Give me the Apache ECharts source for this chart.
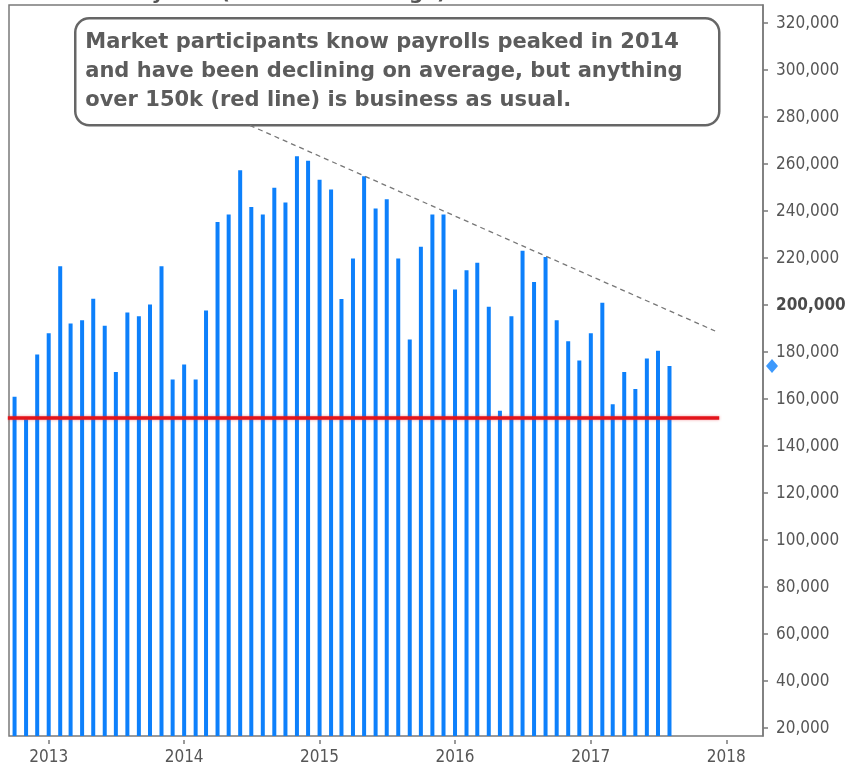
<!DOCTYPE html>
<html>
<head>
<meta charset="utf-8">
<script src="https://cdn.jsdelivr.net/npm/echarts@6/dist/echarts.min.js"></script>
<style>
html,body{margin:0;padding:0;background:#fff;}
#chart{width:858px;height:767px;}
</style>
</head>
<body>
<div id="chart"></div>
<script>
// ---- data ----
const months = [
  '2012-10','2012-11','2012-12',
  '2013-01','2013-02','2013-03','2013-04','2013-05','2013-06','2013-07','2013-08','2013-09','2013-10','2013-11','2013-12',
  '2014-01','2014-02','2014-03','2014-04','2014-05','2014-06','2014-07','2014-08','2014-09','2014-10','2014-11','2014-12',
  '2015-01','2015-02','2015-03','2015-04','2015-05','2015-06','2015-07','2015-08','2015-09','2015-10','2015-11','2015-12',
  '2016-01','2016-02','2016-03','2016-04','2016-05','2016-06','2016-07','2016-08','2016-09','2016-10','2016-11','2016-12',
  '2017-01','2017-02','2017-03','2017-04','2017-05','2017-06','2017-07','2017-08'
];
const payrolls = [
  161000, 151500, 179000,
  188000, 216600, 192200, 193600, 202700, 191200, 171600, 196900, 195300, 200300, 216600, 168400,
  174800, 168400, 197700, 235400, 238600, 257400, 241800, 238600, 250000, 243700, 263300, 261400,
  253400, 249200, 202600, 219800, 254800, 241100, 245100, 219800, 185400, 224800, 238600, 238600,
  206700, 214900, 218000, 199300, 155100, 195300, 223100, 209900, 220500, 193600, 184600, 176500,
  188000, 201000, 157800, 171600, 164300, 177300, 180600, 174100
];
const yTicks = [20000,40000,60000,80000,100000,120000,140000,160000,180000,200000,220000,240000,260000,280000,300000,320000];
const yearTicks = ['2013-01-01','2014-01-01','2015-01-01','2016-01-01','2017-01-01','2018-01-01'];
const thresholdDates = ['2012-09-13','2017-12-13'];
const thresholdValue = 152000;
const trendDates = ['2014-06-27','2017-12-02'];
const trendValues = [276500, 189000];
const titleText = 'Nonfarm Payrolls (12-month average)';
const noteLines = [
  'Market participants know payrolls peaked in 2014',
  'and have been declining on average, but anything',
  'over 150k (red line) is business as usual.'
];

const X_MIN = '2012-09-16';
const X_MAX = '2018-04-10';
const Y_MIN = 16700;
const Y_MAX = 327700;

const ts = d => Date.parse(d.length === 7 ? d + '-01T00:00:00Z' : d + 'T00:00:00Z');

const blue = '#0d80fb';
const axisGray = '#7a7a7a';
const labelColor = '#565656';
const labelFont = '"DejaVu Sans Condensed", "Liberation Sans Narrow", "DejaVu Sans", sans-serif';
const noteFont = '"DejaVu Sans", sans-serif';

const fmt = v => String(v).replace(/\B(?=(\d{3})+(?!\d))/g, ',');

const chart = echarts.init(document.getElementById('chart'), null, {renderer: 'canvas'});
const option = {
  animation: false,
  backgroundColor: '#fff',
  grid: {left: 9, right: 95, top: 5, bottom: 31, show: true, borderColor: axisGray, borderWidth: 1.5, backgroundColor: 'transparent'},
  xAxis: {
    type: 'value',
    min: ts(X_MIN),
    max: ts(X_MAX),
    offset: 4,
    axisLine: {show: false},
    splitLine: {show: false},
    axisTick: {show: true, length: 4, lineStyle: {color: axisGray, width: 1.5}, customValues: yearTicks.map(ts)},
    axisLabel: {
      customValues: yearTicks.map(ts),
      formatter: v => String(new Date(v).getUTCFullYear()),
      color: labelColor, fontSize: 17, fontFamily: labelFont, margin: 9
    }
  },
  yAxis: {
    type: 'value',
    position: 'right',
    min: Y_MIN,
    max: Y_MAX,
    splitLine: {show: false},
    axisLine: {show: true, lineStyle: {color: axisGray, width: 1.5}},
    axisTick: {show: true, length: 5, lineStyle: {color: axisGray, width: 1.5}, customValues: yTicks},
    axisLabel: {
      customValues: yTicks,
      margin: 13,
      formatter: v => v === 200000 ? '{b|' + fmt(v) + '}' : fmt(v),
      color: labelColor, fontSize: 17, fontFamily: labelFont,
      rich: {b: {fontWeight: 'bold', color: '#4a4a4a', fontSize: 17, fontFamily: labelFont}}
    }
  },
  series: [
    {
      type: 'bar',
      barWidth: 4,
      data: months.map((m, i) => [ts(m), payrolls[i]]),
      itemStyle: {color: blue},
      z: 2
    },
    {
      type: 'line',
      data: thresholdDates.map(d => [ts(d), thresholdValue]),
      symbol: 'none',
      clip: false,
      lineStyle: {color: '#e3141b', width: 3.5, shadowColor: 'rgba(230,20,30,0.45)', shadowBlur: 3},
      z: 3
    },
    {
      type: 'line',
      data: trendDates.map((d, i) => [ts(d), trendValues[i]]),
      symbol: 'none',
      lineStyle: {color: '#777', width: 1.3, type: [5, 4]},
      z: 3
    },
    {
      type: 'scatter',
      data: [[ts(X_MAX), payrolls[payrolls.length - 1]]],
      symbol: 'diamond',
      symbolSize: [12, 14],
      symbolOffset: [9, 0],
      clip: false,
      itemStyle: {color: blue},
      z: 5
    }
  ],
  graphic: [
    {
      type: 'text', left: 20, top: -16, silent: true, z: 10,
      style: {text: titleText, fontSize: 20, fontWeight: 'bold', fill: '#555', fontFamily: noteFont}
    },
    {
      type: 'group', left: 74, top: 17, silent: true,
      children: [
        {type: 'rect', shape: {x: 0, y: 0, width: 644, height: 107, r: 14}, style: {fill: '#fff', stroke: '#666', lineWidth: 2.5}},
        {type: 'text', x: 10, y: 10, style: {
          text: noteLines.join('\n'), fontSize: 21, fontWeight: 'bold', fill: '#5c5c5c',
          fontFamily: noteFont, lineHeight: 29
        }}
      ]
    }
  ]
};
chart.setOption(option);
</script>
</body>
</html>
